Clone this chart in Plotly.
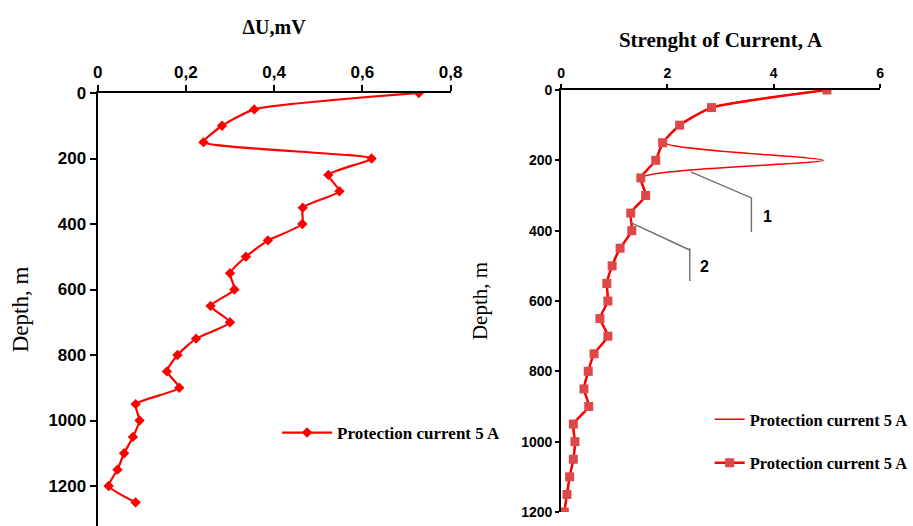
import plotly.graph_objects as go

# ---- Left panel data: potential difference vs depth ----
depth_left = [0, 50, 100, 150, 200, 250, 300, 350, 400, 450, 500, 550, 600, 650,
              700, 750, 800, 850, 900, 950, 1000, 1050, 1100, 1150, 1200, 1250]
du_mv = [0.728, 0.355, 0.282, 0.24, 0.621, 0.523, 0.548, 0.465, 0.464, 0.386, 0.336,
         0.30, 0.31, 0.256, 0.30, 0.223, 0.181, 0.157, 0.185, 0.086, 0.095, 0.08,
         0.06, 0.045, 0.025, 0.086]

# ---- Right panel data: current strength vs depth ----
depth_right = [0, 50, 100, 150, 200, 250, 300, 350, 400, 450, 500, 550, 600, 650,
               700, 750, 800, 850, 900, 950, 1000, 1050, 1100, 1150, 1200]
current_1 = [5.0, 2.83, 2.23, 1.95, 4.93, 1.50, 1.59, 1.31, 1.33, 1.11, 0.96, 0.86,
             0.88, 0.73, 0.88, 0.62, 0.51, 0.43, 0.52, 0.23, 0.26, 0.23, 0.16, 0.11, 0.06]
current_2 = [5.0, 2.83, 2.23, 1.91, 1.78, 1.50, 1.59, 1.31, 1.33, 1.11, 0.96, 0.86,
             0.88, 0.73, 0.88, 0.62, 0.51, 0.43, 0.52, 0.23, 0.26, 0.23, 0.16, 0.11, 0.06]

legend_name = "Protection current 5 A"

# callout leader lines (x, y in right-panel data units) and labels
callout1_x = [2.44, 3.58, 3.58]
callout1_y = [233, 307, 404]
callout2_x = [1.29, 2.42, 2.42]
callout2_y = [376, 455, 543]
callout2_top = 450
callout_labels = ["1", "2"]
callout_label_x = [3.88, 2.70]
callout_label_y = [361, 501]

RED = "rgb(255,0,0)"
SQ = "rgb(222,72,72)"
SERIF = "Liberation Serif"
SANS = "Liberation Sans"

fig = go.Figure()

fig.add_trace(go.Scatter(
    x=du_mv, y=depth_left, mode="lines+markers", name=legend_name,
    line=dict(color=RED, width=2.2, shape="spline", smoothing=0.5),
    marker=dict(symbol="diamond", size=8, color=RED),
    xaxis="x", yaxis="y", legend="legend"))

fig.add_trace(go.Scatter(
    x=current_1, y=depth_right, mode="lines", name=legend_name,
    line=dict(color=RED, width=1.5, shape="spline", smoothing=0.6),
    xaxis="x2", yaxis="y2", legend="legend2", legendgroup="a"))

fig.add_trace(go.Scatter(
    x=current_2, y=depth_right, mode="lines+markers", name=legend_name,
    line=dict(color=RED, width=2.5, shape="spline", smoothing=0.5),
    marker=dict(symbol="square", size=9, color=SQ),
    xaxis="x2", yaxis="y2", legend="legend2", legendgroup="b"))

# leader lines
GRAY = "rgb(110,110,110)"
fig.add_trace(go.Scatter(
    x=callout1_x, y=callout1_y, mode="lines", showlegend=False, hoverinfo="skip",
    line=dict(color=GRAY, width=1.4), xaxis="x2", yaxis="y2"))
fig.add_trace(go.Scatter(
    x=callout2_x[:2], y=callout2_y[:2], mode="lines", showlegend=False, hoverinfo="skip",
    line=dict(color=GRAY, width=1.4), xaxis="x2", yaxis="y2"))
fig.add_trace(go.Scatter(
    x=callout2_x[1:], y=[callout2_top, callout2_y[2]], mode="lines", showlegend=False,
    hoverinfo="skip", line=dict(color=GRAY, width=1.4), xaxis="x2", yaxis="y2"))

for t, lx, ly in zip(callout_labels, callout_label_x, callout_label_y):
    fig.add_annotation(x=lx, y=ly, xref="x2", yref="y2", text=t, showarrow=False,
                       font=dict(family=SANS, size=16, color="black", weight="bold"))

axis_common = dict(showline=True, linecolor="black", linewidth=2, ticks="outside",
                   tickcolor="black", tickwidth=2, showgrid=False, zeroline=False,
                   automargin=False)

fig.update_layout(
    width=913, height=526, margin=dict(l=0, r=0, t=0, b=0, pad=0),
    paper_bgcolor="white", plot_bgcolor="white",
    separators=",.",
    xaxis=dict(domain=[0.1073, 0.4951], range=[0, 0.8], dtick=0.2, side="top",
               anchor="y", ticklen=6,
               tickfont=dict(family=SANS, size=17, color="black", weight="bold"),
               title=dict(text="ΔU,mV", standoff=23,
                          font=dict(family=SERIF, size=20, color="black", weight="bold")),
               **axis_common),
    yaxis=dict(domain=[0, 0.8232], range=[1322, 0], dtick=200, anchor="x", ticklen=6,
               tickfont=dict(family=SANS, size=17, color="black", weight="bold"),
               title=dict(text="Depth, m", standoff=13,
                          font=dict(family=SERIF, size=23, color="black")),
               **axis_common),
    xaxis2=dict(domain=[0.6166, 0.9671], range=[0, 6], dtick=2, side="top",
                anchor="y2", ticklen=4,
                tickfont=dict(family=SANS, size=14, color="black", weight="bold"),
                title=dict(text="Strenght of Current, A", standoff=12,
                           font=dict(family=SERIF, size=21, color="black", weight="bold")),
                **axis_common),
    yaxis2=dict(domain=[0.0266, 0.8289], range=[1200, 0], dtick=200, anchor="x2",
                ticklen=4,
                tickfont=dict(family=SANS, size=14, color="black", weight="bold"),
                title=dict(text="Depth, m", standoff=28,
                           font=dict(family=SERIF, size=21, color="black")),
                **axis_common),
    legend=dict(x=278 / 913, y=1 - 433 / 526, xanchor="left", yanchor="middle",
                bgcolor="rgba(0,0,0,0)", itemwidth=50,
                font=dict(family=SERIF, size=17, color="black", weight="bold")),
    legend2=dict(x=712 / 913, y=1 - 441 / 526, xanchor="left", yanchor="middle",
                 bgcolor="rgba(0,0,0,0)", traceorder="grouped", tracegroupgap=19,
                 font=dict(family=SERIF, size=16.5, color="black", weight="bold")),
)

fig.write_html("out.html")
